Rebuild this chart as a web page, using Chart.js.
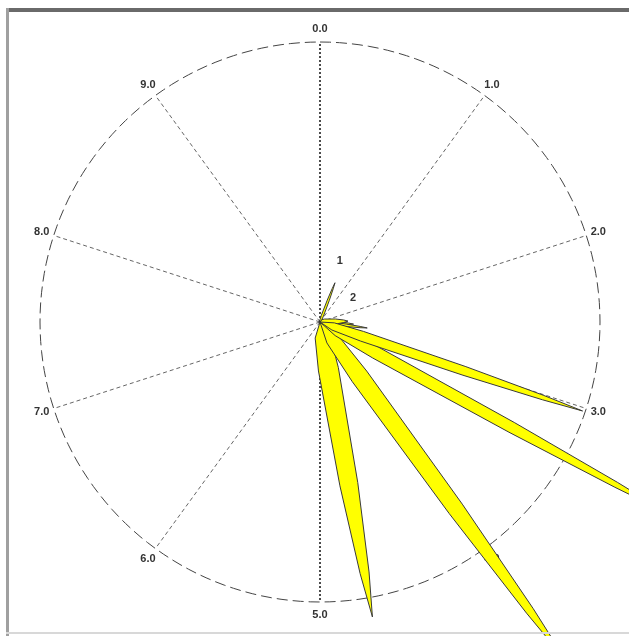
<!DOCTYPE html>
<html>
<head>
<meta charset="utf-8">
<script src="https://cdn.jsdelivr.net/npm/chart.js@4"></script>
<style>
html,body{margin:0;padding:0;background:#fff;}
canvas{display:block;}
</style>
</head>
<body>
<canvas id="c" width="629" height="636"></canvas>
<script>
// Spoke (direction) labels, 0..9 clockwise from top
const spokeLabels = ['0.0','1.0','2.0','3.0','4.0','5.0','6.0','7.0','8.0','9.0'];
// Petal directions (same 0..10 units as spokes)
const petalDir = [3.02, 3.30, 4.00, 4.72, 0.58, 2.45, 2.70, 2.85, 2.60];
// Petal lengths (1 = outer circle)
const petalLen = [0.99, 1.42, 1.50, 1.07, 0.15, 0.10, 0.17, 0.13, 0.12];
// Petal max half-width (radius units)
const petalWidth = [0.018, 0.022, 0.032, 0.036, 0.004, 0.010, 0.005, 0.008, 0.006];
// Small annotation labels near the centre
const noteText = ['1', '2'];
const noteDir = [0.50, 1.50];
const noteRad = [0.23, 0.146];

const STEPS = 10;
function pol(dir, r) {
  const t = dir / STEPS * 2 * Math.PI;
  return { x: r * Math.sin(t), y: r * Math.cos(t) };
}
const profile = [[0,0],[0.05,0.75],[0.16,1],[0.55,0.9],[0.85,0.45],[1,0]];
function petalShape(dir, len, w) {
  const t = dir / STEPS * 2 * Math.PI;
  const ux = Math.sin(t), uy = Math.cos(t);
  const px = Math.cos(t), py = -Math.sin(t);
  const pts = [];
  profile.forEach(([f, k]) => pts.push({ x: ux*len*f + px*w*k, y: uy*len*f + py*w*k }));
  for (let i = profile.length - 2; i >= 1; i--) {
    const [f, k] = profile[i];
    pts.push({ x: ux*len*f - px*w*k, y: uy*len*f - py*w*k });
  }
  pts.push({ x: 0, y: 0 });
  return pts;
}

const datasets = [];
// petals
petalDir.forEach((d, i) => {
  datasets.push({
    data: petalShape(d, petalLen[i], petalWidth[i]),
    showLine: true, fill: 'shape', tension: 0,
    backgroundColor: '#ffff00', borderColor: '#3a3a3a', borderWidth: 1,
    pointRadius: 0, order: 1
  });
});
// spokes
spokeLabels.forEach((lab, i) => {
  const end = pol(i, 1);
  const vertical = (i === 0 || i === 5);
  datasets.push({
    data: [{x:0,y:0}, end],
    showLine: true, fill: false,
    borderColor: vertical ? '#111' : '#666',
    borderWidth: vertical ? 1.5 : 1,
    borderDash: vertical ? [2,2] : [4,3],
    pointRadius: 0, order: 2
  });
});
// outer circle
const circ = [];
for (let a = 0; a <= 360; a += 2) circ.push(pol(a / 36, 1));
datasets.push({
  data: circ, showLine: true, fill: false,
  borderColor: '#444', borderWidth: 1, borderDash: [11,5],
  pointRadius: 0, order: 3
});

const R = 280, CX = 320, CY = 322, W = 629, H = 636;

const labelPlugin = {
  id: 'labels',
  beforeDatasetsDraw(chart) {
    const ctx = chart.ctx, xs = chart.scales.x, ys = chart.scales.y;
    ctx.save();
    ctx.fillStyle = '#333';
    ctx.font = 'bold 11px "Liberation Sans", Arial, sans-serif';
    ctx.textAlign = 'center';
    ctx.textBaseline = 'middle';
    spokeLabels.forEach((lab, i) => {
      const p = pol(i, 1.045);
      ctx.fillText(lab, xs.getPixelForValue(p.x), ys.getPixelForValue(p.y));
    });
    noteText.forEach((t, i) => {
      const p = pol(noteDir[i], noteRad[i]);
      ctx.fillText(t, xs.getPixelForValue(p.x), ys.getPixelForValue(p.y));
    });
    ctx.restore();
  }
};
const framePlugin = {
  id: 'frame',
  beforeDraw(chart) {
    const ctx = chart.ctx;
    ctx.save();
    ctx.fillStyle = '#fff';
    ctx.fillRect(0, 0, chart.width, chart.height);
    ctx.restore();
  },
  afterDraw(chart) {
    const ctx = chart.ctx;
    ctx.save();
    ctx.fillStyle = '#6a6a6a';
    ctx.fillRect(6, 8, chart.width - 6, 4);
    ctx.fillStyle = '#a0a0a0';
    ctx.fillRect(6, 8, 3, chart.height - 8);
    ctx.fillStyle = '#d8d8d8';
    ctx.fillRect(6, chart.height - 4, chart.width - 6, 2);
    ctx.restore();
  }
};

new Chart(document.getElementById('c'), {
  type: 'scatter',
  data: { datasets },
  options: {
    responsive: false, animation: false,
    layout: { padding: 0 },
    plugins: { legend: { display: false }, tooltip: { enabled: false } },
    scales: {
      x: { type: 'linear', display: false, min: -CX / R, max: (W - CX) / R },
      y: { type: 'linear', display: false, min: -(H - CY) / R, max: CY / R }
    }
  },
  plugins: [framePlugin, labelPlugin]
});
</script>
</body>
</html>
